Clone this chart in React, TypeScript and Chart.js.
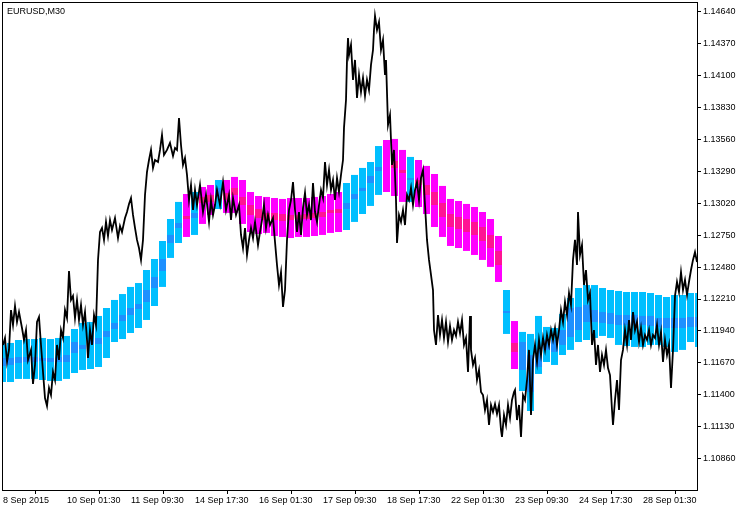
import React, { useEffect, useRef } from "react";
import { Chart, registerables } from "chart.js";

Chart.register(...registerables);

const chartTitle = "EURUSD,M30";

// x axis: M30 bar index of each time label
const xTickBars = [0, 64, 128, 192, 256, 320, 384, 448, 512, 576, 640];
const xTickLabels = [
  "8 Sep 2015", "10 Sep 01:30", "11 Sep 09:30", "14 Sep 17:30", "16 Sep 01:30",
  "17 Sep 09:30", "18 Sep 17:30", "22 Sep 01:30", "23 Sep 09:30", "24 Sep 17:30", "28 Sep 01:30",
];
const yTickValues = [
  1.1086, 1.1113, 1.114, 1.1167, 1.1194, 1.1221, 1.1248, 1.1275,
  1.1302, 1.1329, 1.1356, 1.1383, 1.141, 1.1437, 1.1464,
];

// EURUSD M30 price path (bar index, price)
const priceBar = [
  0, 2, 4, 6, 8, 10, 12, 14, 16, 19,
  21, 23, 25, 28, 30, 32, 34, 36, 38, 40,
  42, 44, 46, 48, 50, 52, 54, 56, 58, 60,
  62, 64, 66, 68, 70, 72, 74, 76, 78, 80,
  82, 84, 85, 87, 89, 91, 93, 95, 97, 99,
  101, 103, 105, 107, 109, 112, 115, 117, 119, 122,
  124, 126, 128, 130, 132, 134, 136, 138, 140, 142,
  144, 146, 148, 150, 152, 155, 157, 159, 161, 164,
  167, 170, 172, 174, 176, 178, 180, 182, 184, 186,
  188, 190, 192, 194, 197, 200, 203, 206, 208, 210,
  212, 214, 217, 220, 223, 226, 228, 230, 233, 236,
  238, 240, 242, 244, 246, 248, 250, 252, 255, 257,
  259, 261, 263, 265, 267, 270, 272, 274, 276, 278,
  280, 282, 284, 286, 288, 290, 292, 294, 296, 298,
  300, 302, 304, 306, 308, 310, 312, 314, 316, 318,
  320, 322, 324, 326, 328, 330, 332, 334, 336, 338,
  340, 341, 343, 344, 345, 346, 348, 350, 352, 354,
  356, 358, 360, 362, 364, 366, 368, 370, 371, 372,
  374, 376, 378, 380, 382, 383, 385, 387, 389, 391,
  393, 394, 396, 398, 400, 402, 404, 406, 408, 410,
  412, 414, 416, 418, 420, 422, 424, 426, 428, 430,
  431, 433, 435, 437, 439, 441, 443, 445, 447, 449,
  451, 453, 455, 457, 459, 461, 463, 465, 467, 468,
  470, 472, 474, 476, 478, 480, 482, 484, 486, 488,
  490, 492, 494, 496, 498, 499, 501, 503, 505, 507,
  509, 511, 512, 514, 516, 518, 520, 522, 524, 526,
  528, 530, 532, 534, 536, 538, 540, 542, 544, 546,
  548, 550, 552, 554, 556, 558, 560, 562, 564, 566,
  568, 570, 572, 574, 575, 577, 579, 581, 583, 585,
  587, 589, 591, 593, 595, 597, 599, 601, 603, 605,
  607, 609, 610, 612, 614, 616, 618, 620, 622, 624,
  626, 628, 630, 632, 634, 636, 638, 640, 642, 644,
  646, 648, 650, 652, 654, 656, 658, 660, 662, 664,
  666, 668, 670, 672, 674, 676, 678, 680, 682, 684,
  686, 688, 690, 692, 694,
];
const priceClose = [
  1.11822, 1.11881, 1.11678, 1.1178, 1.12117, 1.11991, 1.12151, 1.12016, 1.121, 1.11965,
  1.11864, 1.11948, 1.11695, 1.1178, 1.11492, 1.11653, 1.12016, 1.12058, 1.11822, 1.11594,
  1.11374, 1.11307, 1.11459, 1.11399, 1.11594, 1.11526, 1.11822, 1.11695, 1.11948, 1.11881,
  1.12117, 1.1205, 1.12447, 1.12202, 1.12236, 1.1205, 1.12202, 1.12033, 1.1216, 1.11991,
  1.121, 1.11864, 1.11712, 1.11948, 1.11822, 1.12075, 1.11991, 1.1254, 1.12776, 1.1281,
  1.12709, 1.12861, 1.12742, 1.12877, 1.12793, 1.12894, 1.12725, 1.12827, 1.12776, 1.12894,
  1.12945, 1.13013, 1.13063, 1.1292, 1.1281, 1.12709, 1.12641, 1.1254, 1.12709, 1.13089,
  1.13283, 1.13384, 1.13469, 1.13317, 1.13384, 1.13367, 1.13469, 1.13595, 1.13426, 1.13469,
  1.13528, 1.13418, 1.13486, 1.13469, 1.13739, 1.13511, 1.13342, 1.13401, 1.13258, 1.13046,
  1.13173, 1.12962, 1.13131, 1.13004, 1.13173, 1.12945, 1.13089, 1.12861, 1.13046, 1.1292,
  1.13004, 1.13131, 1.13004, 1.13198, 1.12962, 1.13089, 1.12877, 1.13063, 1.1292, 1.13004,
  1.12751, 1.12641, 1.1281, 1.12582, 1.12709, 1.1281, 1.12725, 1.12861, 1.12666, 1.12776,
  1.12877, 1.13004, 1.1281, 1.1292, 1.12835, 1.12894, 1.12692, 1.12497, 1.12328, 1.12438,
  1.12143, 1.12286, 1.12709, 1.12962, 1.13046, 1.13198, 1.12962, 1.12776, 1.12945, 1.12751,
  1.12979, 1.13106, 1.1292, 1.13004, 1.12877, 1.1319, 1.12945, 1.12861, 1.13004, 1.13131,
  1.13063, 1.13367, 1.13173, 1.133, 1.13131, 1.13215, 1.13046, 1.13232, 1.13114, 1.13258,
  1.13384, 1.13655, 1.13891, 1.14229, 1.14415, 1.14271, 1.14356, 1.1406, 1.14229, 1.13908,
  1.14102, 1.13959, 1.14077, 1.13925, 1.1406, 1.13975, 1.14187, 1.14313, 1.14482, 1.146,
  1.14482, 1.1455, 1.14313, 1.14398, 1.14102, 1.14229, 1.1368, 1.13764, 1.13342, 1.13469,
  1.13046, 1.12683, 1.1292, 1.12861, 1.12962, 1.12835, 1.13089, 1.13046, 1.13148, 1.13004,
  1.13131, 1.13198, 1.13046, 1.13232, 1.133, 1.13004, 1.12709, 1.1254, 1.12413, 1.12286,
  1.11948, 1.11822, 1.12075, 1.11906, 1.12033, 1.11881, 1.12016, 1.11847, 1.11982, 1.11864,
  1.11948, 1.11898, 1.12016, 1.11923, 1.12033, 1.11822, 1.11881, 1.11594, 1.12067, 1.1178,
  1.11653, 1.11712, 1.11526, 1.11611, 1.11425, 1.11399, 1.11273, 1.11357, 1.11146, 1.11315,
  1.11256, 1.11323, 1.11239, 1.11315, 1.11104, 1.11045, 1.11231, 1.11146, 1.11315, 1.11205,
  1.11357, 1.11425, 1.11442, 1.11188, 1.11315, 1.11045, 1.11399, 1.11357, 1.11526, 1.1178,
  1.11231, 1.11695, 1.11822, 1.11678, 1.11864, 1.11737, 1.11881, 1.1178, 1.11906, 1.11822,
  1.11948, 1.11864, 1.11965, 1.11822, 1.11948, 1.12117, 1.12016, 1.12185, 1.12075, 1.12261,
  1.1216, 1.1254, 1.12709, 1.12497, 1.12945, 1.12582, 1.12666, 1.12328, 1.12455, 1.12202,
  1.12261, 1.11822, 1.11948, 1.11653, 1.11822, 1.11594, 1.11737, 1.11653, 1.1178, 1.11627,
  1.11568, 1.11273, 1.11146, 1.11357, 1.11526, 1.11273, 1.11695, 1.1178, 1.11948, 1.11822,
  1.12033, 1.11864, 1.121, 1.11948, 1.12016, 1.11847, 1.11965, 1.11822, 1.11906, 1.11864,
  1.11948, 1.11822, 1.11906, 1.11881, 1.11991, 1.11822, 1.11932, 1.11678, 1.11864, 1.11737,
  1.11822, 1.11459, 1.1178, 1.12236, 1.12354, 1.12269, 1.12438, 1.12286, 1.12371, 1.12244,
  1.12354, 1.12455, 1.1254, 1.12607, 1.12523,
];

// H4 blocks (first block starts 4 bars before the first M30 bar)
const h4High = [
  1.11839, 1.11839, 1.11864, 1.11872, 1.11872, 1.11881, 1.11872, 1.11881, 1.11898, 1.11957,
  1.12008, 1.12016, 1.12067, 1.12134, 1.12202, 1.12252, 1.12312, 1.12345, 1.12455, 1.12548,
  1.127, 1.12886, 1.1303, 1.13097, 1.13114, 1.13156, 1.13173, 1.13215, 1.13215, 1.13241,
  1.13215, 1.13114, 1.1308, 1.13072, 1.13063, 1.13055, 1.13063, 1.13063, 1.13063, 1.13072,
  1.1308, 1.13097, 1.13114, 1.1319, 1.13258, 1.13317, 1.13367, 1.13502, 1.13553, 1.13562,
  1.13469, 1.1341, 1.13384, 1.13334, 1.13266, 1.13165, 1.13055, 1.13038, 1.13013, 1.12987,
  1.12945, 1.12886, 1.12742, 1.12286, 1.12024, 1.11932, 1.11915, 1.12067, 1.11974, 1.11965,
  1.12084, 1.12219, 1.12303, 1.12328, 1.12328, 1.12303, 1.12286, 1.12278, 1.12269, 1.12269,
  1.12269, 1.12261, 1.12244, 1.12227, 1.12244, 1.12244, 1.12261, 1.12261,
];
const h4Low = [
  1.11509, 1.11509, 1.11535, 1.11535, 1.11535, 1.11526, 1.11518, 1.11518, 1.11535, 1.11585,
  1.11611, 1.11619, 1.11636, 1.11712, 1.11847, 1.11872, 1.11923, 1.11965, 1.12033, 1.12151,
  1.12312, 1.12557, 1.12683, 1.12734, 1.12751, 1.12844, 1.1292, 1.1297, 1.12937, 1.12937,
  1.12844, 1.12776, 1.12759, 1.12768, 1.12742, 1.12734, 1.12725, 1.12734, 1.12734, 1.12742,
  1.12751, 1.12768, 1.12776, 1.12793, 1.12861, 1.12928, 1.12996, 1.13089, 1.13114, 1.1308,
  1.1303, 1.1303, 1.12987, 1.12928, 1.12818, 1.12734, 1.12658, 1.12641, 1.12616, 1.12582,
  1.1254, 1.12481, 1.12354, 1.11915, 1.11619, 1.11433, 1.11264, 1.11577, 1.11678, 1.11653,
  1.11737, 1.1178, 1.11847, 1.11864, 1.11881, 1.11898, 1.11881, 1.11822, 1.11813, 1.11805,
  1.11805, 1.11822, 1.11822, 1.11805, 1.11763, 1.1178, 1.11847, 1.11805,
];
const h4BodyHigh = [
  1.11712, 1.11712, 1.1172, 1.1172, 1.1172, 1.11712, 1.11712, 1.1172, 1.11737, 1.11847,
  1.11822, 1.11864, 1.11881, 1.1194, 1.12008, 1.12075, 1.12134, 1.12168, 1.12286, 1.12396,
  1.12548, 1.12751, 1.12852, 1.12911, 1.12937, 1.13072, 1.13089, 1.13148, 1.13106, 1.13148,
  1.13072, 1.13004, 1.1297, 1.12937, 1.12937, 1.12928, 1.1292, 1.1292, 1.12928, 1.12937,
  1.12945, 1.12962, 1.1297, 1.13021, 1.13097, 1.13148, 1.13249, 1.13325, null, 1.13376,
  1.133, 1.13232, 1.13215, 1.13173, 1.13114, 1.13021, 1.12928, 1.12903, 1.12886, 1.12861,
  1.12818, 1.12751, 1.12616, 1.12109, 1.11839, 1.11847, 1.11737, 1.1178, 1.11864, 1.11864,
  1.11948, 1.12134, 1.12143, 1.1216, 1.12117, 1.121, 1.12092, 1.12075, 1.12075, 1.12075,
  1.12067, 1.12067, 1.1205, 1.1205, 1.1205, 1.1205, 1.12058, 1.12058,
];
const h4BodyLow = [
  1.11644, 1.11653, 1.1167, 1.11678, 1.11678, 1.11687, 1.11678, 1.11678, 1.11678, 1.11754,
  1.11788, 1.1183, 1.1183, 1.11889, 1.11957, 1.12024, 1.12075, 1.12126, 1.12185, 1.12303,
  1.12447, 1.12683, 1.1281, 1.12886, 1.12894, 1.13021, 1.1303, 1.13072, 1.13046, 1.13089,
  1.13004, 1.1292, 1.12894, 1.12877, 1.12877, 1.12869, 1.12877, 1.12886, 1.12886, 1.12894,
  1.12903, 1.12937, 1.12937, 1.1297, 1.13055, 1.13122, 1.1319, 1.13291, null, 1.13317,
  1.13274, 1.13215, 1.13173, 1.13089, 1.13004, 1.12903, 1.12818, 1.12801, 1.12776, 1.12751,
  1.127, 1.12641, 1.12497, 1.12092, 1.11763, 1.11611, 1.11425, 1.11636, 1.1178, 1.11763,
  1.11822, 1.11889, 1.11948, 1.12016, 1.12016, 1.12008, 1.11999, 1.11991, 1.11991, 1.11991,
  1.11991, 1.11982, 1.11974, 1.11965, 1.11965, 1.11965, 1.11974, 1.11974,
];
// 1 = rising block (blue), 0 = falling block (magenta)
const h4Up = [
  1, 1, 1, 1, 1, 1, 1, 1, 1, 1,
  1, 1, 1, 1, 1, 1, 1, 1, 1, 1,
  1, 1, 1, 0, 1, 0, 0, 1, 0, 0,
  0, 0, 0, 0, 0, 0, 0, 0, 0, 0,
  0, 0, 0, 1, 1, 1, 1, 1, 0, 0,
  0, 1, 0, 0, 0, 0, 0, 0, 0, 0,
  0, 0, 0, 1, 0, 1, 1, 1, 1, 1,
  1, 1, 1, 1, 1, 1, 1, 1, 1, 1,
  1, 1, 1, 1, 1, 1, 1, 1,
];

const UP = "#00BFFF";
const UP_DARK = "#1E90FF";
const DOWN = "#FF00FF";
const DOWN_DARK = "#FF1493";
const FONT = '"Liberation Sans", Arial, sans-serif';

export default function App() {
  const ref = useRef<HTMLCanvasElement>(null);

  useEffect(() => {
    if (!ref.current) return;
    const blockX = h4High.map((_, k) => (k - 1) * 8 + 7.5);

    const outer = blockX.map((x, k) => ({ x, y: [h4Low[k], h4High[k]] }));
    const outerColors = h4Up.map((u) => (u ? UP : DOWN));
    const inner: any[] = [];
    const innerColors: string[] = [];
    blockX.forEach((x, k) => {
      if (h4BodyHigh[k] != null && h4BodyLow[k] != null) {
        inner.push({ x, y: [h4BodyLow[k], h4BodyHigh[k]] });
        innerColors.push(h4Up[k] ? UP_DARK : DOWN_DARK);
      }
    });
    const line = priceBar.map((b, i) => ({ x: b, y: priceClose[i] }));

    const zeroPad = (s: any) => {
      s.paddingLeft = 0;
      s.paddingRight = 0;
      s.paddingTop = 0;
      s.paddingBottom = 0;
    };

    const framePlugin = {
      id: "frame",
      afterDraw(chart: any) {
        const { ctx, chartArea } = chart;
        const { left, top, right, bottom } = chartArea;
        ctx.save();
        ctx.strokeStyle = "#000";
        ctx.lineWidth = 1;
        ctx.strokeRect(left - 0.5, top - 0.5, right - left + 1, bottom - top + 1);
        ctx.fillStyle = "#000";
        ctx.font = `9px ${FONT}`;
        ctx.textBaseline = "alphabetic";
        ctx.textAlign = "left";
        ctx.fillText(chartTitle, 7, 13.5);
        ctx.restore();
      },
    };

    const chart = new Chart(ref.current, {
      type: "bar",
      data: {
        datasets: [
          {
            type: "line",
            data: line as any,
            borderColor: "#000",
            borderWidth: 1.8,
            pointRadius: 0,
            tension: 0,
            order: 0,
          } as any,
          {
            type: "bar",
            data: inner as any,
            backgroundColor: innerColors,
            barThickness: 7,
            grouped: false,
            borderWidth: 0,
            inflateAmount: 0,
            order: 1,
          } as any,
          {
            type: "bar",
            data: outer as any,
            backgroundColor: outerColors,
            barThickness: 7,
            grouped: false,
            borderWidth: 0,
            inflateAmount: 0,
            order: 2,
          } as any,
        ],
      },
      options: {
        responsive: false,
        animation: false,
        layout: { padding: { left: 3, top: 3, right: 0, bottom: 0 } },
        plugins: {
          legend: { display: false },
          tooltip: { enabled: false },
          title: { display: false },
        },
        scales: {
          x: {
            type: "linear",
            position: "bottom",
            min: 0,
            max: 694,
            offset: false,
            afterBuildTicks: (s: any) => {
              s.ticks = xTickBars.map((v) => ({ value: v }));
            },
            afterFit: (s: any) => {
              s.height = 21;
              zeroPad(s);
            },
            ticks: {
              autoSkip: false,
              maxRotation: 0,
              minRotation: 0,
              align: "start",
              padding: 1,
              color: "#000",
              font: { family: FONT, size: 9 },
              callback: (_v: any, i: number) => xTickLabels[i] ?? "",
            },
            grid: { drawOnChartArea: false, drawTicks: true, tickLength: 4, color: "#000", lineWidth: 1 },
            border: { display: false },
          },
          y: {
            type: "linear",
            position: "right",
            min: 1.10597,
            max: 1.1471,
            afterBuildTicks: (s: any) => {
              s.ticks = yTickValues.map((v) => ({ value: v }));
            },
            afterFit: (s: any) => {
              s.width = 53;
              zeroPad(s);
            },
            ticks: {
              autoSkip: false,
              padding: 2,
              color: "#000",
              font: { family: FONT, size: 9 },
              callback: (v: any) => Number(v).toFixed(5),
            },
            grid: { drawOnChartArea: false, drawTicks: true, tickLength: 4, color: "#000", lineWidth: 1 },
            border: { display: false },
          },
        } as any,
      },
      plugins: [framePlugin],
    });
    return () => chart.destroy();
  }, []);

  return (
    <div style={{ position: "fixed", left: 0, top: 0, width: 750, height: 511, background: "#fff" }}>
      <canvas ref={ref} width={750} height={511} style={{ display: "block" }} />
    </div>
  );
}
